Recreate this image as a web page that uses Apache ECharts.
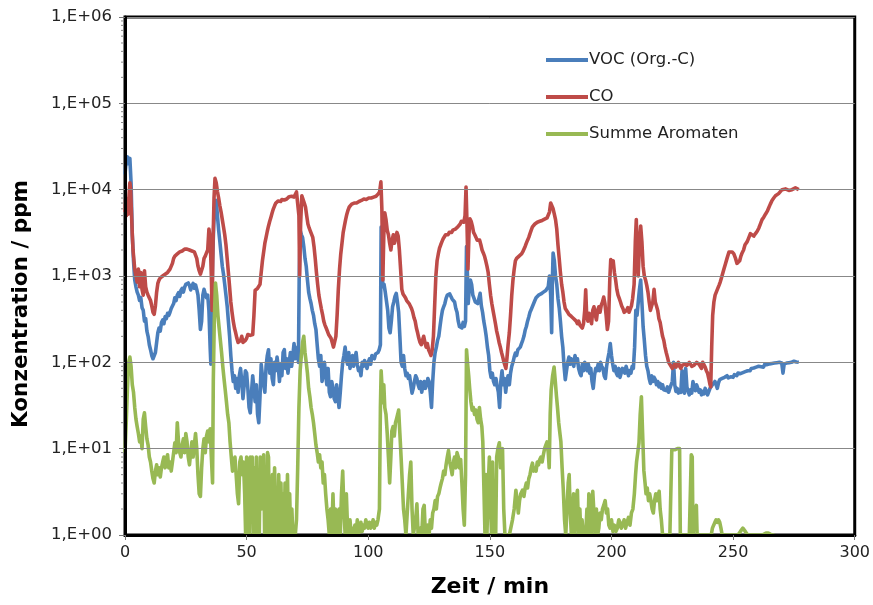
<!DOCTYPE html>
<html><head><meta charset="utf-8">
<script src="https://cdn.jsdelivr.net/npm/echarts@6/dist/echarts.min.js"></script>
<style>html,body{margin:0;padding:0;background:#fff}#c{width:873px;height:605px}</style>
</head><body><div id="c"></div>
<script>
var seriesNames = ['VOC (Org.-C)', 'CO', 'Summe Aromaten'];
var xTicks = [0, 50, 100, 150, 200, 250, 300];
var yDecades = [1, 10, 100, 1000, 10000, 100000, 1000000];
var minorTicks = [2,3,4,5,6,7,8,9,20,30,40,50,60,70,80,90,200,300,400,500,600,700,800,900,
  2000,3000,4000,5000,6000,7000,8000,9000,20000,30000,40000,50000,60000,70000,80000,90000,
  200000,300000,400000,500000,600000,700000,800000,900000];

var vocData = [[0,15000],[0.5,22000],[1,24000],[1.5,20000],[2,23000],[2.5,12000],[3,3000],[3.5,1500],[4,900],[4.5,750],[5,650],[5.5,600],[6,520],[6.5,560],[7,430],[7.5,400],[8,300],[8.5,320],[9,230],[9.5,200],[10,160],[10.5,140],[11,120],[11.5,110],[12,105],[12.5,130],[13,170],[13.5,220],[14,250],[14.5,230],[15,290],[15.5,310],[16,280],[16.5,340],[17,320],[17.5,370],[18,350],[18.5,380],[19,420],[19.5,400],[20,480],[20.5,560],[21,520],[21.5,600],[22,640],[22.5,580],[23,680],[23.5,720],[24,650],[24.5,740],[25,800],[25.5,760],[26,830],[26.5,780],[27,690],[27.5,760],[28,820],[28.5,720],[29,790],[29.5,700],[30,600],[30.5,400],[31,240],[31.5,300],[32,600],[32.5,700],[33,620],[33.5,560],[34,600],[34.5,400],[35,150],[35.3,95],[35.6,300],[36,1500],[36.5,4000],[37,7000],[37.5,7500],[38,5000],[38.5,3400],[39,2500],[39.5,1800],[40,1300],[40.5,1050],[41,800],[41.5,600],[42,450],[42.5,300],[43,200],[43.5,120],[44,80],[44.5,60],[45,70],[45.5,50],[46,65],[46.5,45],[47,70],[47.5,85],[48,60],[48.5,38],[49,55],[49.5,80],[50,75],[50.5,50],[51,30],[51.5,26],[52,45],[52.5,70],[53,50],[53.5,35],[54,55],[54.5,25],[55,20],[55.5,40],[56,95],[56.5,70],[57,55],[57.5,45],[58,90],[58.5,120],[59,140],[59.5,75],[60,110],[60.5,65],[61,55],[61.5,100],[62,80],[62.5,115],[63,90],[63.5,60],[64,95],[64.5,70],[65,130],[65.5,140],[66,85],[66.5,110],[67,75],[67.5,100],[68,130],[68.5,90],[69,120],[69.5,165],[70,110],[70.5,130],[71,150],[71.3,100],[71.6,900],[72,3400],[72.5,3000],[73,2800],[73.5,2200],[74,1600],[74.5,1300],[75,900],[75.5,650],[76,550],[76.5,480],[77,400],[77.5,350],[78,280],[78.5,240],[79,160],[79.5,110],[80,90],[80.5,120],[81,60],[81.5,75],[82,100],[82.5,70],[83,55],[83.5,85],[84,45],[84.5,40],[85,60],[85.5,50],[86,38],[86.5,35],[87,55],[87.5,40],[88,30],[88.5,45],[89,70],[89.5,100],[90,120],[90.5,150],[91,110],[91.5,95],[92,130],[92.5,85],[93,100],[93.5,120],[94,90],[94.5,110],[95,130],[95.5,95],[96,80],[96.5,85],[97,70],[97.5,100],[98,90],[98.5,105],[99,110],[99.5,85],[100,100],[100.5,110],[101,95],[101.5,120],[102,115],[102.5,110],[103,125],[103.5,120],[104,130],[104.5,140],[105,160],[105.3,3700],[105.7,1500],[106,750],[106.5,800],[107,650],[107.5,630],[108,400],[108.5,250],[109,220],[109.5,300],[110,440],[110.5,500],[111,580],[111.5,630],[112,500],[112.5,380],[113,200],[113.5,100],[114,90],[114.5,120],[115,85],[115.5,70],[116,75],[116.5,65],[117,70],[117.5,55],[118,44],[118.5,50],[119,60],[119.5,70],[120,65],[120.5,55],[121,50],[121.5,60],[122,45],[122.5,55],[123,60],[123.5,50],[124,55],[124.5,65],[125,60],[125.5,45],[126,30],[126.5,60],[127,100],[127.5,130],[128,150],[128.5,180],[129,200],[129.5,260],[130,330],[130.5,400],[131,440],[131.5,480],[132,550],[132.5,600],[133,630],[133.5,620],[134,580],[134.5,540],[135,560],[135.5,500],[136,420],[136.5,380],[137,300],[137.5,260],[138,270],[138.5,250],[139,290],[139.5,260],[140,300],[140.4,2200],[140.8,1000],[141.1,480],[141.5,700],[142,900],[142.5,800],[143,600],[143.5,550],[144,500],[144.5,520],[145,480],[145.5,550],[146,630],[146.5,450],[147,380],[147.5,300],[148,250],[148.5,200],[149,150],[149.5,120],[150,80],[150.5,67],[151,75],[151.5,60],[152,55],[152.5,65],[153,53],[153.5,45],[154,30],[154.5,60],[155,80],[155.5,55],[156,65],[156.5,45],[157,60],[157.5,70],[158,55],[158.5,75],[159,90],[159.5,100],[160,115],[160.5,128],[161,120],[161.5,140],[162,135],[162.5,150],[163,165],[163.5,180],[164,200],[164.5,235],[165,260],[165.5,300],[166,335],[166.5,380],[167,410],[167.5,430],[168,480],[168.5,520],[169,560],[169.5,570],[170,600],[170.5,580],[171,620],[171.5,630],[172,650],[172.5,640],[173,680],[173.5,690],[174,750],[174.5,1000],[175,600],[175.4,220],[175.7,900],[176,1850],[176.5,1500],[177,1000],[177.5,800],[178,550],[178.5,430],[179,300],[179.5,200],[180,150],[180.5,90],[181,63],[181.5,80],[182,100],[182.5,115],[183,95],[183.5,110],[184,105],[184.5,90],[185,120],[185.5,100],[186,110],[186.5,85],[187,75],[187.5,70],[188,95],[188.5,80],[189,100],[189.5,90],[190,80],[190.5,95],[191,75],[191.5,85],[192,60],[192.5,50],[193,70],[193.5,85],[194,80],[194.5,95],[195,80],[195.5,100],[196,90],[196.5,85],[197,70],[197.5,65],[198,90],[198.5,110],[199,130],[199.5,165],[200,120],[200.5,95],[201,80],[201.5,90],[202,75],[202.5,70],[203,85],[203.5,67],[204,75],[204.5,85],[205,80],[205.5,75],[206,90],[206.5,80],[207,70],[207.5,80],[208,75],[208.5,90],[209,85],[209.5,150],[210,400],[210.5,350],[211,500],[211.5,700],[212,900],[212.5,500],[213,260],[213.5,180],[214,120],[214.5,90],[215,80],[215.5,65],[216,57],[216.5,70],[217,60],[217.5,67],[218,63],[218.5,55],[219,60],[219.5,52],[220,57],[220.5,50],[221,55],[221.5,48],[222,50],[222.5,47],[223,52],[223.5,45],[224,50],[224.5,48],[225,60],[225.5,100],[226,55],[226.5,46],[227,50],[227.5,44],[228,48],[228.5,45],[229,80],[229.5,47],[230,44],[230.5,85],[231,52],[231.5,46],[232,42],[232.5,48],[233,44],[233.5,60],[234,50],[234.5,47],[235,55],[235.5,50],[236,45],[236.5,48],[237,42],[237.5,46],[238,43],[238.5,50],[239,46],[239.5,42],[240,44],[240.5,50],[241,52],[241.5,55],[242,57],[242.5,60],[243,55],[243.5,50],[244,58],[244.5,63],[245,60],[245.5,65],[246,62],[246.5,67],[247,64],[247.5,70],[248,66],[248.5,64],[249,68],[249.5,70],[250,67],[250.5,72],[251,73],[251.5,70],[252,75],[252.5,72],[253,74],[253.5,78],[254,76],[254.5,80],[255,78],[255.5,82],[256,80],[256.5,83],[257,80],[257.5,85],[258,82],[258.5,86],[259,84],[259.5,88],[260,85],[260.5,90],[261,87],[261.5,89],[262,92],[262.5,88],[263,95],[263.5,91],[264,94],[264.5,90],[265,96],[265.5,93],[266,97],[266.5,94],[267,98],[267.5,95],[268,99],[268.5,96],[269,100],[269.5,97],[270,98],[270.5,75],[271,96],[271.5,100],[272,98],[272.5,102],[273,99],[273.5,104],[274,100],[274.5,97],[275,103],[275.5,99],[276,101],[276.5,97],[277,100]];

var coData = [[0,5500],[0.3,8000],[0.6,5000],[1,7000],[1.3,5200],[1.7,9000],[2,12000],[2.3,10500],[2.6,6000],[3,3000],[3.3,2000],[3.7,1500],[4,1200],[4.5,1000],[5,850],[5.5,1200],[6,750],[6.5,1100],[7,700],[7.5,600],[8,1150],[8.5,750],[9,650],[9.5,600],[10,580],[10.5,520],[11,450],[11.5,380],[12,360],[12.5,450],[13,650],[13.5,820],[14,900],[14.5,950],[15,980],[15.5,1000],[16,1020],[16.5,1050],[17,1030],[17.5,1100],[18,1150],[18.5,1200],[19,1260],[19.5,1400],[20,1600],[20.5,1700],[21,1750],[21.5,1800],[22,1850],[22.5,1900],[23,1880],[23.5,1950],[24,2000],[24.5,2050],[25,2100],[25.5,2050],[26,2080],[26.5,2000],[27,2020],[27.5,1950],[28,1980],[28.5,1900],[29,1850],[29.5,1600],[30,1300],[30.5,1150],[31,1050],[31.5,1030],[32,1300],[32.5,1600],[33,1700],[33.5,1850],[34,2000],[34.5,3500],[35,2800],[35.5,1000],[35.8,400],[36.2,2500],[36.6,8000],[37,13500],[37.5,12000],[38,9500],[38.5,8000],[39,6500],[39.5,5500],[40,4500],[40.5,3700],[41,3000],[41.5,2300],[42,1600],[42.5,1100],[43,750],[43.5,500],[44,380],[44.5,300],[45,250],[45.5,220],[46,190],[46.5,170],[47,165],[47.5,180],[48,200],[48.5,170],[49,165],[49.5,180],[50,190],[50.5,210],[51,215],[51.5,205],[52,200],[52.5,210],[53,350],[53.5,680],[54,700],[54.5,720],[55,750],[55.5,800],[56,1100],[56.5,1500],[57,1900],[57.5,2400],[58,2800],[58.5,3300],[59,3800],[59.5,4300],[60,4800],[60.5,5400],[61,6000],[61.5,6500],[62,7000],[62.5,7200],[63,7400],[63.5,7600],[64,7300],[64.5,7700],[65,7900],[65.5,7600],[66,8000],[66.5,7800],[67,8100],[67.5,8300],[68,8000],[68.5,8400],[69,8300],[69.5,8200],[70,8800],[70.5,9400],[71,9000],[71.5,5000],[71.8,1000],[72.2,4000],[72.7,8500],[73.2,8300],[73.7,7000],[74.2,6300],[74.7,5000],[75.2,4000],[75.7,3600],[76.2,3300],[76.7,3200],[77.2,2800],[77.7,2200],[78.2,1600],[78.7,1100],[79.2,800],[79.7,600],[80.2,500],[80.7,420],[81.2,360],[81.7,300],[82.2,270],[82.7,250],[83.2,230],[83.7,210],[84.2,200],[84.7,190],[85.2,170],[85.7,150],[86.2,155],[86.7,200],[87.2,350],[87.7,700],[88.2,1200],[88.7,1800],[89.2,2400],[89.7,3200],[90.2,3800],[90.7,4500],[91.2,5200],[91.7,5800],[92.2,6300],[92.7,6600],[93.2,6800],[93.7,6900],[94.2,7000],[94.7,7100],[95.2,7000],[95.7,7200],[96.2,7300],[96.7,7200],[97.2,7500],[97.7,7400],[98.2,7800],[98.7,7600],[99.2,7700],[99.7,7900],[100.2,8000],[100.7,8100],[101.2,8000],[101.7,8300],[102.2,8200],[102.7,8500],[103.2,8400],[103.7,8800],[104.2,9000],[104.7,9500],[105.2,12300],[105.6,6000],[106,900],[106.4,3000],[106.8,5400],[107.3,4500],[107.8,3400],[108.3,3000],[108.8,2400],[109.3,2000],[109.8,2600],[110.3,3000],[110.8,2400],[111.3,2800],[111.8,3200],[112.3,2900],[112.8,2000],[113.3,1200],[113.8,700],[114.3,620],[114.8,600],[115.3,560],[115.8,520],[116.3,540],[116.8,480],[117.3,450],[117.8,420],[118.3,380],[118.8,330],[119.3,300],[119.8,250],[120.3,220],[120.8,190],[121.3,170],[121.8,160],[122.3,180],[122.8,200],[123.3,170],[123.8,150],[124.3,165],[124.8,140],[125.3,130],[125.8,120],[126.3,140],[126.8,200],[127.3,450],[127.8,1000],[128.3,1500],[128.8,1800],[129.3,2100],[129.8,2300],[130.3,2500],[130.8,2700],[131.3,2800],[131.8,3000],[132.3,3100],[132.8,3000],[133.3,3200],[133.8,3300],[134.3,3200],[134.8,3400],[135.3,3300],[135.8,3500],[136.3,3400],[136.8,3700],[137.3,3900],[137.8,4000],[138.3,4300],[138.8,4500],[139.3,4200],[139.8,5000],[140.2,10700],[140.6,4000],[141,1200],[141.4,3000],[141.8,4600],[142.3,4300],[142.8,3800],[143.3,3200],[143.8,3000],[144.3,2800],[144.8,2600],[145.3,2700],[145.8,2600],[146.3,2300],[146.8,2000],[147.3,1850],[147.8,1700],[148.3,1500],[148.8,1300],[149.3,1100],[149.8,800],[150.3,600],[150.8,480],[151.3,400],[151.8,335],[152.3,280],[152.8,230],[153.3,200],[153.8,170],[154.3,150],[154.8,130],[155.3,115],[155.8,100],[156.3,90],[156.6,85],[157,110],[157.5,160],[158,220],[158.5,350],[159,600],[159.5,900],[160,1200],[160.5,1500],[161,1600],[161.5,1650],[162,1700],[162.5,1750],[163,1800],[163.5,1900],[164,2000],[164.5,2200],[165,2400],[165.5,2600],[166,2800],[166.5,3100],[167,3400],[167.5,3700],[168,3900],[168.5,4000],[169,4100],[169.5,4200],[170,4150],[170.5,4300],[171,4250],[171.5,4400],[172,4500],[172.5,4550],[173,4600],[173.5,4700],[174,4900],[174.5,5500],[175,7000],[175.5,6800],[176,6000],[176.5,5200],[177,4500],[177.5,3500],[178,2300],[178.5,1600],[179,1100],[179.5,800],[180,650],[180.5,500],[181,420],[181.5,400],[182,380],[182.5,360],[183,350],[183.5,340],[184,335],[184.5,320],[185,330],[185.5,300],[186,280],[186.5,300],[187,270],[187.5,260],[188,250],[188.5,280],[189,400],[189.4,690],[189.8,350],[190.3,300],[190.8,370],[191.3,330],[191.8,280],[192.3,400],[192.8,440],[193.3,360],[193.8,310],[194.3,400],[194.8,440],[195.3,380],[195.8,460],[196.3,500],[196.8,570],[197.3,480],[197.8,350],[198.3,240],[198.8,300],[199.3,900],[199.7,1550],[200.2,1400],[200.7,1500],[201.2,1100],[201.7,900],[202.2,700],[202.7,600],[203.2,550],[203.7,500],[204.2,450],[204.7,420],[205.2,380],[205.7,370],[206.2,400],[206.7,430],[207.2,380],[207.7,400],[208.2,450],[208.7,550],[209.3,800],[209.8,2500],[210.2,4500],[210.6,1500],[211,1000],[211.5,2500],[212,3800],[212.5,2500],[213,1300],[213.5,1000],[214,900],[214.5,780],[215,650],[215.5,500],[216,400],[216.5,450],[217,500],[217.5,700],[218,500],[218.5,450],[219,400],[219.5,320],[220,290],[220.5,240],[221,200],[221.5,180],[222,150],[222.5,130],[223,115],[223.5,100],[224,98],[224.5,90],[225,85],[225.5,90],[226,95],[226.5,88],[227,92],[227.5,100],[228,90],[228.5,85],[229,92],[229.5,88],[230,95],[230.5,100],[231,92],[231.5,88],[232,100],[232.5,95],[233,90],[233.5,88],[234,93],[234.5,90],[235,100],[235.5,105],[236,95],[236.5,90],[237,85],[237.5,100],[238,95],[238.5,88],[239,80],[239.5,75],[240,65],[240.5,55],[240.8,52],[241.2,150],[241.6,350],[242.1,500],[242.6,600],[243.2,630],[243.7,720],[244.2,780],[244.7,850],[245.2,950],[245.6,1000],[246.2,1200],[246.9,1400],[247.5,1600],[248.3,1900],[249,1950],[249.6,1900],[250.3,1800],[251,1600],[251.6,1400],[252,1350],[252.7,1500],[253.2,1700],[253.7,1850],[254.3,2000],[254.9,2300],[255.5,2400],[255.8,2500],[256.5,2800],[257.1,3100],[257.8,3000],[258.5,2900],[259.2,3100],[259.9,3300],[260.6,3600],[261.2,4000],[261.9,4500],[262.6,4800],[263.3,5200],[264,5600],[264.7,6200],[265.3,6800],[266,7500],[266.7,8000],[267.4,8500],[268,8800],[268.7,9000],[269.4,9300],[270.1,10000],[270.8,10500],[271.5,10200],[272.2,10000],[272.9,9800],[273.6,9900],[274.2,10000],[274.9,10300],[275.6,10500],[276.3,10200],[277,10000]];

var aroData = [[0,9],[0.5,20],[1,50],[1.5,100],[2,115],[2.5,90],[3,55],[3.5,45],[4,30],[4.5,22],[5,18],[5.5,15],[6,12],[6.5,14],[7,10],[7.5,22],[8,26],[8.5,18],[9,13],[9.5,11],[10,8],[10.5,7],[11,5.5],[11.5,4.5],[12,4],[12.5,5.5],[13,6.5],[13.5,5],[14,6],[14.5,4.7],[15,6],[15.5,7],[16,8],[16.5,6],[17,7.5],[17.5,8.5],[18,6],[18.5,7],[19,5.5],[19.5,7],[20,9],[20.5,11.7],[21,9],[21.5,20],[22,12],[22.5,9],[23,8],[23.5,11],[24,13],[24.5,9],[25,15],[25.5,12],[26,8],[26.5,6.5],[27,9],[27.5,12],[28,8],[28.5,11],[29,15],[29.5,10],[30,5],[30.5,3],[31,2.8],[31.5,6],[32,10],[32.5,13],[33,9],[33.5,14],[34,16],[34.5,12],[35,17],[35.5,8],[36,4],[36.3,60],[36.7,300],[37.2,830],[37.7,600],[38.2,350],[38.7,250],[39.2,180],[39.7,130],[40.2,90],[40.7,65],[41.2,48],[41.7,35],[42.2,25],[42.7,20],[43.2,12],[43.7,8],[44.2,5.5],[44.7,6],[45.2,8],[45.7,5],[46.2,3],[46.7,2.3],[47.2,7],[47.7,8],[48.2,5],[48.7,7],[49.2,3],[49.6,1],[50,8],[50.3,1],[50.7,7],[51.1,1],[51.5,8],[51.9,2],[52.3,8],[52.7,1],[53.1,6],[53.5,1],[54,8],[54.4,1],[54.8,5],[55.2,1],[55.6,8],[56,2],[56.5,3],[57,8.5],[57.4,1],[57.8,6],[58.2,1],[58.6,9],[59,8],[59.4,1],[59.8,4],[60.2,1],[60.6,5],[61,1],[61.5,6],[62,1],[62.4,3],[62.8,1],[63.2,5],[63.6,1],[64.1,4],[64.5,1],[65,3],[65.4,1],[65.8,4],[66.3,1],[66.8,5],[67.2,1],[67.7,3],[68.1,1],[68.6,2],[69,1],[69.5,1],[70,1],[70.5,1.5],[71,6],[71.5,30],[72,80],[72.5,120],[73,170],[73.5,200],[74,130],[74.5,100],[75,75],[75.5,50],[76,40],[76.5,30],[77,25],[77.5,20],[78,15],[78.5,11],[79,9],[79.5,7],[80,8.5],[80.5,6],[81,7],[81.5,4],[82,5],[82.5,3],[83,2],[83.5,1.5],[84,1],[84.5,2],[85,1],[85.5,3],[86,1],[86.5,2],[87,1.3],[87.5,1],[88,2],[88.5,1],[89,3],[89.5,5.5],[90,2],[90.5,1],[91,3],[91.5,1.2],[92,1],[92.5,1.5],[93,1],[93.5,1.2],[94,1],[94.5,1.3],[95,1],[95.5,1.5],[96,1],[96.5,1.2],[97,1.4],[97.5,1.1],[98,1.3],[98.5,1.2],[99,1.5],[99.5,1.3],[100,1.2],[100.5,1.4],[101,1.2],[101.5,1.3],[102,1.5],[102.5,1.2],[103,1.4],[103.5,1.3],[104,1.5],[104.6,2],[105,30],[105.3,80],[105.7,50],[106,34],[106.4,55],[106.8,30],[107.3,25],[107.8,15],[108.3,8],[108.8,4],[109.3,8],[109.7,16],[110.2,18],[110.7,14],[111.2,20],[111.6,22],[112.1,25],[112.5,28],[113,15],[113.5,8],[114,4],[114.5,2],[115,1.5],[115.5,1],[116,1],[116.5,3],[117,5],[117.5,7],[118,2],[118.5,1],[119,1],[119.5,1.5],[120,2.3],[120.5,1],[121,1],[121.5,1.2],[122,1],[122.5,2],[123,2.2],[123.5,1],[124,1],[124.5,1.3],[125,1],[125.5,1.5],[126,1.2],[126.5,1.8],[127,2],[127.5,2.5],[128,2],[128.5,2.8],[129,3],[129.5,3.5],[130,4],[130.5,4.5],[131,5.5],[131.5,5],[132,6.5],[132.5,8],[133,9.5],[133.5,7],[134,6],[134.5,5],[135,7],[135.5,8],[136,6],[136.5,9],[137,8],[137.5,6],[138,7.5],[138.5,4],[139,2],[139.5,1.3],[140,5],[140.4,140],[140.8,100],[141.3,70],[141.7,50],[142.2,35],[142.7,28],[143.2,30],[143.7,25],[144.2,28],[144.7,22],[145.2,20],[145.7,30],[146.2,22],[146.7,18],[147.1,12],[147.5,4],[148,1],[148.4,5],[148.8,1],[149.2,3],[149.8,8],[150.3,2],[150.7,1],[151.1,7],[151.5,1],[152,3],[152.4,1],[152.8,8],[153.3,10],[153.9,11.7],[154.4,6],[154.8,9],[155.2,10],[155.7,2],[156.2,1],[157,1],[158,1],[158.6,1.2],[159.3,1.5],[160,2],[160.7,3.3],[161.2,2.5],[161.7,1.8],[162.2,2.5],[162.7,3],[163.4,3.3],[164,2.8],[164.5,3.5],[165,4],[165.5,3.5],[166,4.5],[166.5,5],[167,6],[167.5,6.8],[168,5.5],[168.5,6],[169,5.5],[169.5,7],[170,6.5],[170.5,7.5],[171,8],[171.5,7],[172,8.5],[172.5,10],[173,11],[173.5,12],[174,9],[174.4,6],[174.8,25],[175.2,48],[175.8,70],[176.4,88],[176.9,60],[177.4,40],[177.8,30],[178.3,20],[178.8,15],[179.2,12],[179.7,6],[180.2,3.3],[180.7,1.5],[181.2,1],[181.7,2],[182.2,4],[182.6,5],[183,2],[183.5,1],[183.9,1.3],[184.4,3],[184.9,1],[185.4,2.5],[186,3.3],[186.5,1],[187,2],[187.4,1],[187.9,1.5],[188.4,1],[188.9,1.2],[189.4,1],[189.9,2],[190.3,1],[190.7,3],[191.2,2.5],[191.7,1],[192.3,3.2],[192.8,3.3],[193.3,1],[193.8,2],[194.3,1],[194.8,1.2],[195.3,1.8],[195.8,1.5],[196.3,2],[196.8,2.2],[197.4,2.5],[197.9,1.8],[198.4,2],[198.9,1.3],[199.4,1.2],[200,1.5],[200.6,1.1],[201.2,1.3],[201.8,1.1],[202.4,1.2],[203,1.5],[203.5,1.4],[204,1.2],[204.6,1.3],[205.2,1.5],[205.8,1.2],[206.4,1.4],[207,1.6],[207.6,1.3],[208.2,1.8],[208.8,2],[209.4,3],[209.9,5],[210.3,7],[210.8,9],[211.3,11.6],[211.8,25],[212.3,40],[212.8,15],[213.3,5.6],[213.8,4],[214.2,3],[214.7,3.5],[215.2,2.5],[215.7,3],[216.2,2.5],[216.7,2],[217.2,1.8],[217.7,2.5],[218.2,3],[218.7,2.5],[219.2,2.8],[219.6,3.2],[220,2],[220.5,1.5],[221,1],[222,1],[223,1],[224,1],[224.4,1],[224.8,9.7],[225.4,9.5],[226,9.7],[226.6,9.8],[227.1,10],[227.6,10.2],[228,10],[228.3,1],[229,1],[230,1],[231,1],[232,1],[232.5,1],[232.8,8.5],[233.2,8],[233.5,1],[234,1],[234.6,2],[234.9,2.2],[235.2,1],[236,1],[238,1],[240,1],[241,1],[241.5,1.2],[242,1.3],[242.5,1.4],[243,1.5],[243.5,1.4],[244,1.5],[244.5,1.4],[245,1.2],[245.5,1],[246,1],[248,1],[250,1],[252,1],[253,1.1],[254,1.2],[254.5,1.2],[255,1.1],[256,1],[258,1],[260,1],[262,1],[262.5,1.05],[263.5,1.05],[264.5,1.05],[265,1],[266,1],[267,1]];

var colors = ['#4A7EBB', '#BE4B48', '#98B954'];
var FONT = 'DejaVu Sans';

function lineSeries(name, data, color) {
  return {
    name: name, type: 'line', data: data, symbol: 'none', showSymbol: false,
    lineStyle: { color: color, width: 3.6, join: 'round' },
    itemStyle: { color: color }, clip: true, silent: true
  };
}

var chart = echarts.init(document.getElementById('c'), null, { renderer: 'canvas' });
chart.setOption({
  animation: false,
  backgroundColor: '#ffffff',
  grid: { left: 125, right: 16, top: 17, bottom: 70, show: true, borderColor: '#000', borderWidth: 3, backgroundColor: 'transparent' },
  legend: {
    data: seriesNames, orient: 'vertical', left: 546, top: 50, padding: 0,
    icon: 'rect', itemWidth: 42, itemHeight: 4, itemGap: 17,
    textStyle: { fontFamily: FONT, fontSize: 16.5, color: '#222', lineHeight: 20, padding: [0, 0, 0, -4] },
    selectedMode: false
  },
  graphic: [{
    type: 'text', x: 21, y: 304, rotation: Math.PI / 2, z: 20,
    style: { text: 'Konzentration / ppm', fontFamily: FONT, fontSize: 21.5, fontWeight: 'bold', fill: '#000', align: 'center', verticalAlign: 'middle' }
  }],
  xAxis: {
    type: 'value', min: xTicks[0], max: xTicks[xTicks.length - 1], interval: 50, z: 10,
    name: 'Zeit / min', nameLocation: 'middle', nameGap: 41,
    nameTextStyle: { fontFamily: FONT, fontSize: 22, fontWeight: 'bold', color: '#000' },
    axisLine: { show: true, onZero: false, lineStyle: { color: '#000', width: 3 } },
    axisTick: { show: true, inside: false, length: 5, lineStyle: { color: '#777', width: 1 } },
    axisLabel: { fontFamily: FONT, fontSize: 16, color: '#222', margin: 10 },
    splitLine: { show: false }
  },
  yAxis: {
    type: 'log', logBase: 10, min: yDecades[0], max: yDecades[yDecades.length - 1], z: 10,
    axisLine: { show: true, lineStyle: { color: '#000', width: 3 } },
    axisTick: { show: true, inside: false, length: 6, lineStyle: { color: '#777', width: 1 } },
    axisLabel: {
      fontFamily: FONT, fontSize: 16.5, color: '#222', margin: 13,
      formatter: function (v) { var e = Math.round(Math.log10(v)); return '1,E+' + (e < 10 ? '0' : '') + e; }
    },
    splitLine: { show: true, lineStyle: { color: '#888', width: 1 } }
  },
  series: [
    lineSeries(seriesNames[0], vocData, colors[0]),
    lineSeries(seriesNames[1], coData, colors[1]),
    lineSeries(seriesNames[2], aroData, colors[2]),
    {
      type: 'custom', name: 'minorTicks', silent: true, clip: false, z: 11,
      data: minorTicks.map(function (v) { return [0, v]; }),
      renderItem: function (params, api) {
        var p = api.coord([0, api.value(1)]);
        return { type: 'line', shape: { x1: p[0] - 4, y1: p[1], x2: p[0] - 1.5, y2: p[1] }, style: { stroke: '#888', lineWidth: 1 } };
      }
    }
  ]
});
</script>
</body></html>
